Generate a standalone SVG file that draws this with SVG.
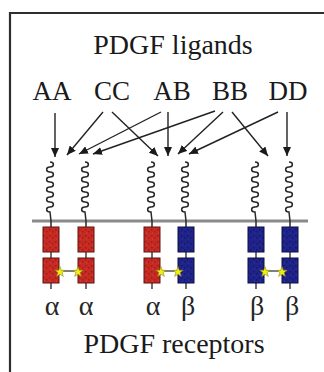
<svg xmlns="http://www.w3.org/2000/svg" xmlns:xlink="http://www.w3.org/1999/xlink" width="324" height="372" viewBox="0 0 324 372">
  <style>
    .title { font-size: 28px; fill: #1a1a1a; text-anchor: middle; }
    .lig { font-size: 27px; fill: #1a1a1a; text-anchor: middle; }
    .greek { font-size: 28px; fill: #262626; text-anchor: middle; }
    .frame { fill: none; stroke: #2e2e2e; stroke-width: 2.2; }
    .arrow { stroke: #222; stroke-width: 1.4; fill: none; marker-end: url(#head); }
    .coil { fill: none; stroke: #2a2a2a; stroke-width: 1.5; }
    .stalk { stroke: #333; stroke-width: 1.4; }
    .membrane { stroke: #8a8a8a; stroke-width: 3; }
    .red { fill: url(#speckle-red); stroke: #5a1410; stroke-width: 1; }
    .blue { fill: url(#speckle-blue); stroke: #0d0f40; stroke-width: 1; }
    .star { fill: #f2ee10; stroke: #8a8a20; stroke-width: 0.6; }
    .link { stroke: #555; stroke-width: 1.5; }
  </style>
  <defs>
    <marker id="head" markerUnits="userSpaceOnUse" markerWidth="10" markerHeight="8" refX="9" refY="4" orient="auto">
      <path d="M0,0 L9,4 L0,8 Z" fill="#1a1a1a"/>
    </marker>
    <!-- mottled domain fills -->
    <pattern id="speckle-red" patternUnits="userSpaceOnUse" width="6" height="6">
      <rect width="6" height="6" fill="#c62a22"/>
      <rect x="1" y="1" width="1.5" height="1.5" fill="#9e1c16"/>
      <rect x="4" y="3" width="1.5" height="1.5" fill="#a31e18"/>
      <rect x="2" y="4.5" width="1" height="1" fill="#d8443a"/>
    </pattern>
    <pattern id="speckle-blue" patternUnits="userSpaceOnUse" width="6" height="6">
      <rect width="6" height="6" fill="#1f238a"/>
      <rect x="1" y="1" width="1.5" height="1.5" fill="#141766"/>
      <rect x="4" y="3" width="1.5" height="1.5" fill="#15186a"/>
      <rect x="2" y="4.5" width="1" height="1" fill="#2e34a4"/>
    </pattern>
    <!-- extracellular coiled segment, drawn from its top at (0,0) -->
    <path id="coil" class="coil" d="M0,0 c4.5,0 4.5,5 0,5 c-4.5,0 -4.5,5 0,5 c4.5,0 4.5,5 0,5 c-4.5,0 -4.5,5 0,5 c4.5,0 4.5,5 0,5 c-4.5,0 -4.5,5 0,5 c4.5,0 4.5,5 0,5 c-4.5,0 -4.5,5 0,5 c4.5,0 4.5,5 0,5 c-4.5,0 -4.5,5 0,5 L1,59 L1,65"/>
    <polygon id="star" class="star" points="0,-5.5 1.3,-1.7 5.2,-1.7 2.1,0.6 3.3,4.4 0,2.2 -3.3,4.4 -2.1,0.6 -5.2,-1.7 -1.3,-1.7"/>
  </defs>

  <!-- outer frame -->
  <path class="frame" d="M10,372 V13 H324"/>

  <g font-family="Liberation Serif, Times New Roman, serif">
    <g id="title-ligands">
      <text class="title" x="173" y="54">PDGF ligands</text>
    </g>

    <g id="ligand-AA"><text class="lig" x="52" y="100">AA</text></g>
    <g id="ligand-CC"><text class="lig" x="112" y="100">CC</text></g>
    <g id="ligand-AB"><text class="lig" x="172" y="100">AB</text></g>
    <g id="ligand-BB"><text class="lig" x="230" y="100">BB</text></g>
    <g id="ligand-DD"><text class="lig" x="288" y="100">DD</text></g>
  </g>

  <g id="connectors">
    <line class="arrow" x1="55" y1="113" x2="55" y2="157"/>
    <line class="arrow" x1="103" y1="112" x2="67" y2="155"/>
    <line class="arrow" x1="112" y1="112" x2="158" y2="156"/>
    <line class="arrow" x1="161" y1="112" x2="79" y2="154"/>
    <line class="arrow" x1="168" y1="112" x2="168" y2="156"/>
    <line class="arrow" x1="215" y1="111" x2="93" y2="154"/>
    <line class="arrow" x1="223" y1="112" x2="178" y2="154"/>
    <line class="arrow" x1="232" y1="112" x2="268" y2="156"/>
    <line class="arrow" x1="278" y1="112" x2="189" y2="154"/>
    <line class="arrow" x1="287" y1="112" x2="287" y2="156"/>
  </g>

  <!-- cell membrane -->
  <line class="membrane" x1="32" y1="221" x2="308" y2="221"/>

  <g id="receptor-aa-1">
    <use xlink:href="#coil" x="50" y="162"/>
    <line class="stalk" x1="51" y1="252" x2="51" y2="258"/>
    <line class="stalk" x1="51" y1="283" x2="51" y2="289"/>
    <rect class="red" x="43" y="227" width="16" height="25"/>
    <rect class="red" x="43" y="258" width="16" height="25"/>
  </g>
  <g id="receptor-aa-2">
    <use xlink:href="#coil" x="85" y="162"/>
    <line class="stalk" x1="86" y1="252" x2="86" y2="258"/>
    <line class="stalk" x1="86" y1="283" x2="86" y2="289"/>
    <rect class="red" x="78" y="227" width="16" height="25"/>
    <rect class="red" x="78" y="258" width="16" height="25"/>
  </g>
  <g id="dimer-aa">
    <line class="link" x1="60" y1="271" x2="77" y2="271"/>
    <use xlink:href="#star" x="60" y="272"/>
    <use xlink:href="#star" x="78" y="272"/>
  </g>

  <g id="receptor-ab-1">
    <use xlink:href="#coil" x="151" y="162"/>
    <line class="stalk" x1="152" y1="252" x2="152" y2="258"/>
    <line class="stalk" x1="152" y1="283" x2="152" y2="289"/>
    <rect class="red" x="144" y="227" width="16" height="25"/>
    <rect class="red" x="144" y="258" width="16" height="25"/>
  </g>
  <g id="receptor-ab-2">
    <use xlink:href="#coil" x="185" y="162"/>
    <line class="stalk" x1="186" y1="252" x2="186" y2="258"/>
    <line class="stalk" x1="186" y1="283" x2="186" y2="289"/>
    <rect class="blue" x="178" y="227" width="16" height="25"/>
    <rect class="blue" x="178" y="258" width="16" height="25"/>
  </g>
  <g id="dimer-ab">
    <line class="link" x1="161" y1="271" x2="177" y2="271"/>
    <use xlink:href="#star" x="161" y="272"/>
    <use xlink:href="#star" x="178" y="272"/>
  </g>

  <g id="receptor-bb-1">
    <use xlink:href="#coil" x="255" y="162"/>
    <line class="stalk" x1="256" y1="252" x2="256" y2="258"/>
    <line class="stalk" x1="256" y1="283" x2="256" y2="289"/>
    <rect class="blue" x="248" y="227" width="16" height="25"/>
    <rect class="blue" x="248" y="258" width="16" height="25"/>
  </g>
  <g id="receptor-bb-2">
    <use xlink:href="#coil" x="289" y="162"/>
    <line class="stalk" x1="290" y1="252" x2="290" y2="258"/>
    <line class="stalk" x1="290" y1="283" x2="290" y2="289"/>
    <rect class="blue" x="282" y="227" width="16" height="25"/>
    <rect class="blue" x="282" y="258" width="16" height="25"/>
  </g>
  <g id="dimer-bb">
    <line class="link" x1="265" y1="271" x2="281" y2="271"/>
    <use xlink:href="#star" x="265" y="272"/>
    <use xlink:href="#star" x="282" y="272"/>
  </g>

  <g font-family="Liberation Serif, Times New Roman, serif">
    <g id="subunit-labels">
      <text class="greek" x="52" y="315">α</text>
      <text class="greek" x="86" y="315">α</text>
      <text class="greek" x="153" y="315">α</text>
      <text class="greek" x="188" y="315">β</text>
      <text class="greek" x="257" y="315">β</text>
      <text class="greek" x="292" y="315">β</text>
    </g>

    <g id="title-receptors">
      <text class="title" x="174" y="353">PDGF receptors</text>
    </g>
  </g>
</svg>
